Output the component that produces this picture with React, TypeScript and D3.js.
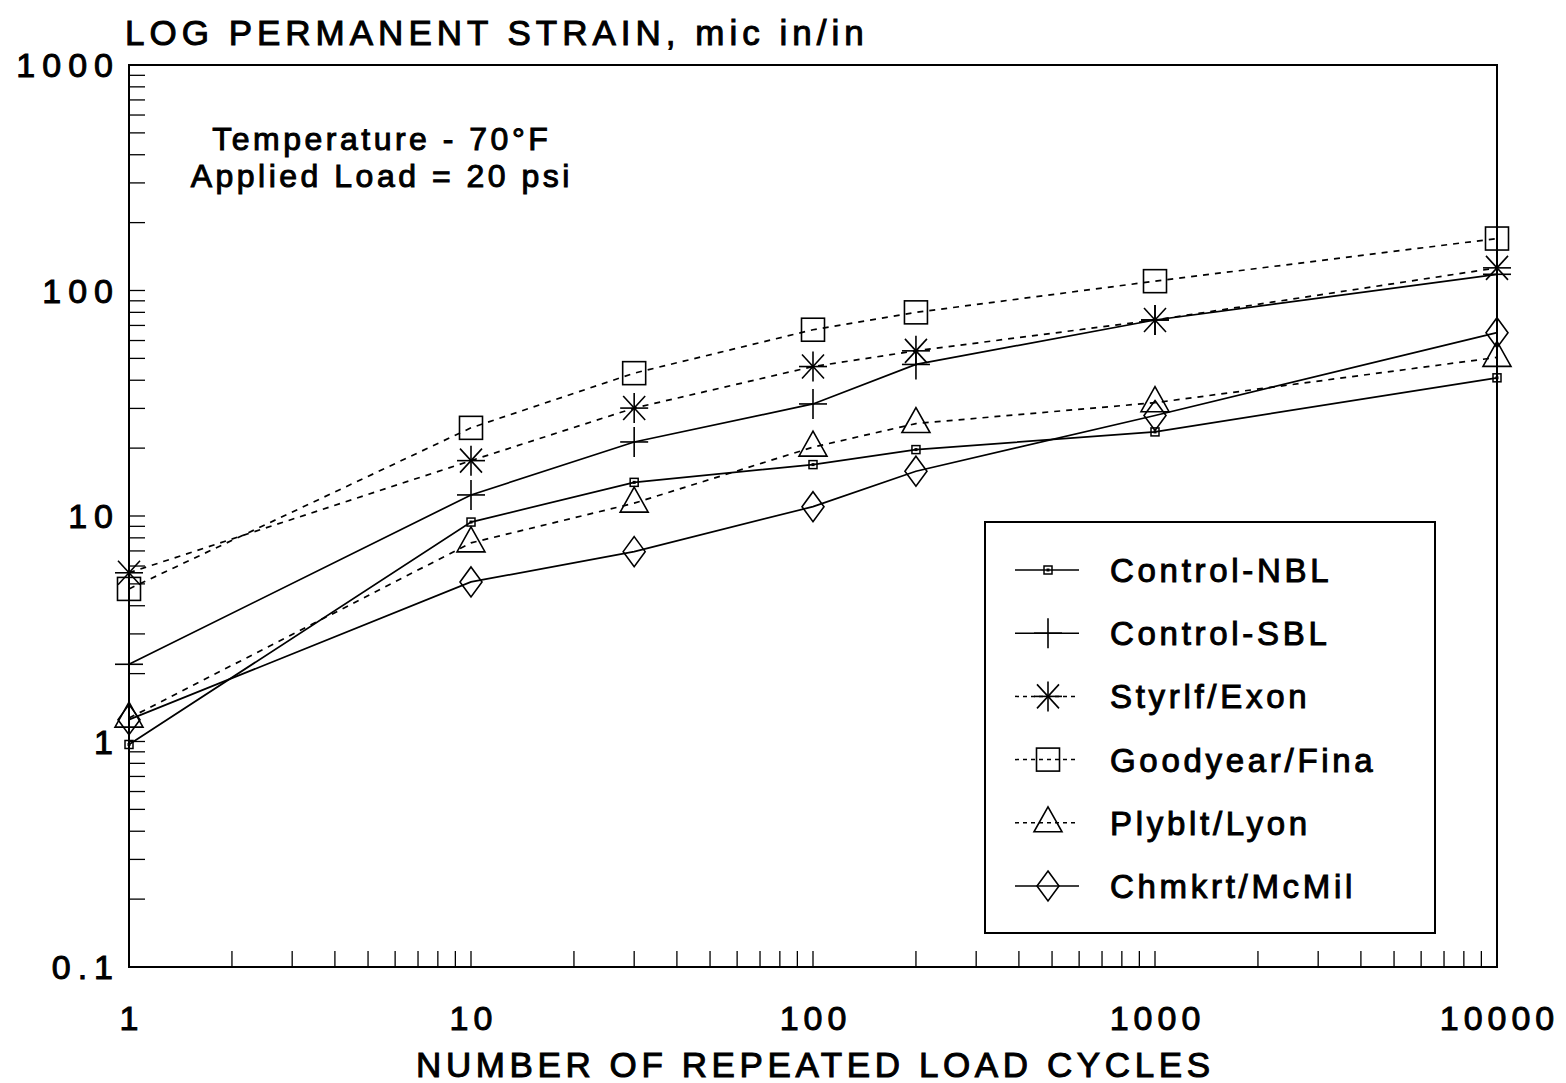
import React from 'react'
import * as d3 from 'd3'

// load cycles where strain was measured
const cycles = [1, 10, 30, 100, 200, 1000, 10000]

// permanent strain, mic in/in
const controlNBL = [0.97, 9.4, 14.1, 16.9, 19.7, 23.6, 41]
const controlSBL = [2.2, 12.4, 21.3, 31.4, 47, 74, 118]
const styrlfExon = [5.6, 17.6, 30.1, 46, 54, 74, 126]
const goodyearFina = [4.75, 24.6, 43, 67, 80, 110, 170]
const plybltLyon = [1.27, 7.6, 11.4, 20.2, 25.7, 31.8, 50.5]
const chmkrtMcMil = [1.25, 5.1, 6.95, 11, 15.8, 27.9, 65]

const seriesNames = ['Control-NBL', 'Control-SBL', 'Styrlf/Exon', 'Goodyear/Fina', 'Plyblt/Lyon', 'Chmkrt/McMil']
const seriesValues = [controlNBL, controlSBL, styrlfExon, goodyearFina, plybltLyon, chmkrtMcMil]
const seriesMarkers = ['smallSquare', 'plus', 'asterisk', 'square', 'triangle', 'diamond']
const seriesDashed = [false, false, true, true, true, false]

const xTickValues = [1, 10, 100, 1000, 10000]
const xTickLabels = ['1', '10', '100', '1000', '10000']
const yTickValues = [0.1, 1, 10, 100, 1000]
const yTickLabels = ['0.1', '1', '10', '100', '1000']

const titleText = 'LOG PERMANENT STRAIN, mic in/in'
const xTitleText = 'NUMBER OF REPEATED LOAD CYCLES'
const noteLines = ['Temperature - 70°F', 'Applied Load = 20 psi']

const W = 1566
const H = 1083
const FONT = '"Liberation Sans", Arial, sans-serif'

const Marker = ({ type, cx, cy }: { type: string; cx: number; cy: number }) => {
  const s = { stroke: '#000', strokeWidth: 1.6, fill: 'none' }
  switch (type) {
    case 'smallSquare':
      return (
        <g>
          <rect x={cx - 4} y={cy - 4} width={8} height={8} {...s} strokeWidth={1.5} />
          <rect x={cx - 1.5} y={cy - 1.5} width={3} height={3} fill="#000" />
        </g>
      )
    case 'plus':
      return (
        <g {...s}>
          <line x1={cx - 14} x2={cx + 14} y1={cy} y2={cy} />
          <line x1={cx} x2={cx} y1={cy - 15} y2={cy + 15} />
        </g>
      )
    case 'asterisk':
      return (
        <g {...s}>
          <line x1={cx - 14} x2={cx + 14} y1={cy} y2={cy} />
          <line x1={cx} x2={cx} y1={cy - 15} y2={cy + 15} />
          <line x1={cx - 11} x2={cx + 11} y1={cy - 12} y2={cy + 12} />
          <line x1={cx - 11} x2={cx + 11} y1={cy + 12} y2={cy - 12} />
        </g>
      )
    case 'square':
      return <rect x={cx - 11.5} y={cy - 11.5} width={23} height={23} {...s} />
    case 'triangle':
      return <path d={`M${cx},${cy - 16}L${cx + 14},${cy + 9}L${cx - 14},${cy + 9}Z`} {...s} />
    case 'diamond':
      return <path d={`M${cx},${cy - 15}L${cx + 11},${cy}L${cx},${cy + 15}L${cx - 11},${cy}Z`} {...s} />
    default:
      return null
  }
}

const App: React.FC = () => {
  const left = 129
  const right = 1497
  const top = 65
  const bottom = 967

  const x = d3.scaleLog().domain([1, 10000]).range([left, right])
  const y = d3.scaleLog().domain([0.1, 1000]).range([bottom, top])

  const line = d3
    .line<number>()
    .x((_, i) => x(cycles[i]))
    .y(d => y(d))

  const xMinor = x.ticks()
  const yMinor = y.ticks()

  // scanned print looks heavier than a plain regular face
  const textStyle = { fontFamily: FONT, fill: '#000', stroke: '#000', strokeWidth: 1 }

  // legend
  const lgX = 985
  const lgY = 522
  const lgW = 450
  const lgH = 411
  const rowY = (i: number) => 570 + i * 63.2

  return (
    <svg width={W} height={H} style={{ position: 'absolute', left: 0, top: 0, background: '#fff' }}>
      <rect width={W} height={H} fill="#fff" />

      {/* title */}
      <text x={125} y={45} fontSize={35} letterSpacing={5} {...textStyle}>
        {titleText}
      </text>

      {/* frame */}
      <rect x={left} y={top} width={right - left} height={bottom - top} fill="none" stroke="#000" strokeWidth={2} />

      {/* y minor ticks */}
      {yMinor.map((v, i) => (
        <line key={'yt' + i} x1={left} x2={left + 16} y1={y(v)} y2={y(v)} stroke="#000" strokeWidth={1.3} />
      ))}
      {/* x minor ticks */}
      {xMinor.map((v, i) => (
        <line key={'xt' + i} x1={x(v)} x2={x(v)} y1={bottom} y2={bottom - 16} stroke="#000" strokeWidth={1.3} />
      ))}

      {/* y tick labels */}
      {yTickValues.map((v, i) => (
        <text key={'yl' + i} x={113 + 7} y={y(v) + 12} fontSize={34} letterSpacing={7} textAnchor="end" {...textStyle}>
          {yTickLabels[i]}
        </text>
      ))}
      {/* x tick labels */}
      {xTickValues.map((v, i) => (
        <text key={'xl' + i} x={x(v) + 2.5} y={1030} fontSize={34} letterSpacing={5} textAnchor="middle" {...textStyle}>
          {xTickLabels[i]}
        </text>
      ))}

      {/* x title */}
      <text x={813 + 2.3} y={1077} fontSize={35} letterSpacing={4.6} textAnchor="middle" {...textStyle}>
        {xTitleText}
      </text>

      {/* note */}
      {noteLines.map((t, i) => (
        <text key={'n' + i} x={380 + 1.75} y={150 + i * 37} fontSize={32} letterSpacing={3.5} textAnchor="middle" {...textStyle}>
          {t}
        </text>
      ))}

      {/* series */}
      {seriesValues.map((vals, si) => (
        <g key={'s' + si}>
          <path
            d={line(vals) || ''}
            fill="none"
            stroke="#000"
            strokeWidth={1.7}
            strokeDasharray={seriesDashed[si] ? '6 6' : undefined}
          />
          {vals.map((v, j) => (
            <Marker key={j} type={seriesMarkers[si]} cx={x(cycles[j])} cy={y(v)} />
          ))}
        </g>
      ))}

      {/* legend */}
      <rect x={lgX} y={lgY} width={lgW} height={lgH} fill="#fff" stroke="#000" strokeWidth={2} />
      {seriesNames.map((name, i) => (
        <g key={'lg' + i}>
          <line
            x1={1015}
            x2={1079}
            y1={rowY(i)}
            y2={rowY(i)}
            stroke="#000"
            strokeWidth={1.5}
            strokeDasharray={seriesDashed[i] ? '4 4' : undefined}
          />
          <Marker type={seriesMarkers[i]} cx={1048} cy={rowY(i)} />
          <text x={1110} y={rowY(i) + 12} fontSize={33} letterSpacing={3.7} {...textStyle}>
            {name}
          </text>
        </g>
      ))}
    </svg>
  )
}

export default App
